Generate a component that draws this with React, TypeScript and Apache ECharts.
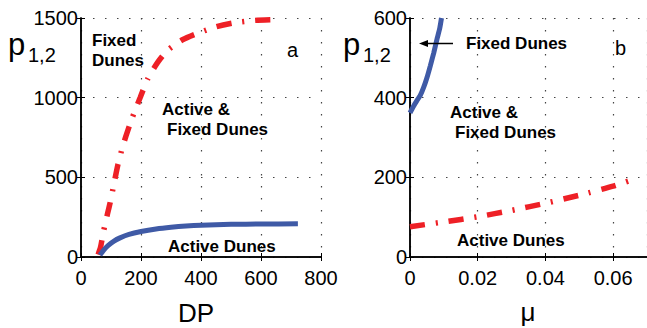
import React, { useEffect, useRef } from "react";
import * as echarts from "echarts";

// Panel a: p vs DP
const dpTicks = [0, 200, 400, 600, 800];
const pTicksA = [0, 500, 1000, 1500];
const redA: [number, number][] = [
  [57, 15], [65, 60], [75, 160], [87, 260], [97, 340], [110, 460], [123, 580],
  [137, 680], [150, 760], [170, 870], [197, 1000], [223, 1120], [255, 1220],
  [290, 1300], [340, 1365], [390, 1405], [450, 1445], [510, 1470], [580, 1485], [660, 1490],
];
const blueA: [number, number][] = [
  [63, 12], [75, 42], [90, 72], [110, 100], [130, 120], [160, 142], [200, 160],
  [250, 176], [300, 187], [350, 195], [400, 200], [500, 205], [600, 207], [723, 208],
];

// Panel b: p vs mu
const muTicks = [0, 0.02, 0.04, 0.06];
const pTicksB = [0, 200, 400, 600];
const redB: [number, number][] = [
  [0, 76], [0.01, 88], [0.02, 101], [0.03, 117], [0.04, 135], [0.05, 155], [0.06, 178], [0.067, 198],
];
const blueB: [number, number][] = [
  [0, 362], [0.001, 378], [0.002, 392], [0.003, 405], [0.004, 425], [0.005, 450],
  [0.006, 480], [0.007, 512], [0.008, 548], [0.0088, 575], [0.0093, 600],
];

const FONT = "'Liberation Sans', Arial, Helvetica, sans-serif";
const RED = "#ee2026";
const BLUE = "#3f5aa6";

export default function App() {
  const ref = useRef<HTMLDivElement>(null);
  useEffect(() => {
    document.body.style.margin = "0";
    const chart = echarts.init(ref.current!, undefined, { renderer: "svg" });
    const splitLine = { show: true, lineStyle: { color: "#444", width: 1.2, type: [1.5, 10.5] as any, opacity: 1 } };
    const axisLine = { show: true, lineStyle: { color: "#000", width: 1.5 } };
    const tick = { show: true, inside: true, length: 4, lineStyle: { color: "#000", width: 1 } };
    const label = (margin: number, showMax = true) => ({
      show: true, color: "#000", fontSize: 20, fontFamily: FONT, margin, showMaxLabel: showMax,
      formatter: (v: number) => String(v),
    });
    const txt = (text: string, x: number, y: number, size: number, bold = true, align = "left") => ({
      type: "text", x, y, silent: true, z: 100,
      style: {
        text, fill: "#000", font: `${bold ? "bold " : ""}${size}px ${FONT}`,
        textAlign: align, textVerticalAlign: "middle",
      },
    });
    const redStyle = { color: RED, width: 5.5, type: [15, 11, 2, 11] as any, cap: "butt" as any };
    const blueStyle = { color: BLUE, width: 5 };
    chart.setOption({
      animation: false,
      grid: [
        { left: 81, top: 18, width: 240, height: 239, show: false },
        { left: 410, top: 18, width: 239, height: 239, show: false },
      ],
      xAxis: [
        { type: "value", gridIndex: 0, min: dpTicks[0], max: dpTicks[dpTicks.length - 1], interval: 200,
          axisLine, axisTick: tick, axisLabel: label(11), splitLine },
        { type: "value", gridIndex: 0, position: "top", min: 0, max: 800, interval: 200,
          axisLine, axisTick: tick, axisLabel: { show: false }, splitLine: { show: false } },
        { type: "value", gridIndex: 1, min: muTicks[0], max: 0.07, interval: 0.02,
          axisLine, axisTick: tick, axisLabel: label(11, false), splitLine },
        { type: "value", gridIndex: 1, position: "top", min: 0, max: 0.07, interval: 0.02,
          axisLine, axisTick: tick, axisLabel: { show: false }, splitLine: { show: false } },
      ],
      yAxis: [
        { type: "value", gridIndex: 0, min: pTicksA[0], max: pTicksA[pTicksA.length - 1], interval: 500,
          axisLine, axisTick: tick, axisLabel: label(3), splitLine },
        { type: "value", gridIndex: 0, position: "right", min: 0, max: 1500, interval: 500,
          axisLine, axisTick: tick, axisLabel: { show: false }, splitLine: { show: false } },
        { type: "value", gridIndex: 1, min: pTicksB[0], max: pTicksB[pTicksB.length - 1], interval: 200,
          axisLine, axisTick: tick, axisLabel: label(3), splitLine },
        { type: "value", gridIndex: 1, position: "right", min: 0, max: 600, interval: 200,
          axisLine, axisTick: tick, axisLabel: { show: false }, splitLine: { show: false } },
      ],
      series: [
        { type: "line", xAxisIndex: 0, yAxisIndex: 0, data: redA, showSymbol: false, smooth: 0.2, lineStyle: redStyle },
        { type: "line", xAxisIndex: 0, yAxisIndex: 0, data: blueA, showSymbol: false, smooth: 0.2, lineStyle: blueStyle },
        { type: "line", xAxisIndex: 2, yAxisIndex: 2, data: redB, showSymbol: false, smooth: 0.2, lineStyle: redStyle },
        { type: "line", xAxisIndex: 2, yAxisIndex: 2, data: blueB, showSymbol: false, smooth: 0.2, lineStyle: blueStyle },
      ],
      graphic: [
        txt("p", 8, 44, 31, false),
        txt("1,2", 28, 55, 20, false),
        txt("p", 343, 44, 31, false),
        txt("1,2", 363, 55, 20, false),
        txt("DP", 196, 313, 26, false, "center"),
        txt("μ", 528, 312, 26, false, "center"),
        txt("Fixed", 92, 40, 17),
        txt("Dunes", 92, 60, 17),
        txt("Active &", 162, 109, 17),
        txt("Fixed Dunes", 167, 129, 17),
        txt("Active Dunes", 168, 246, 17),
        txt("a", 287, 50, 20, false),
        txt("Fixed Dunes", 466, 43.5, 17),
        txt("Active &", 450, 112, 17),
        txt("Fixed Dunes", 455, 132, 17),
        txt("Active Dunes", 457, 240.5, 17),
        txt("b", 615, 48, 20, false),
        { type: "line", silent: true, z: 100, shape: { x1: 426, y1: 43.5, x2: 453, y2: 43.5 }, style: { stroke: "#000", lineWidth: 1.5 } },
        { type: "polygon", silent: true, z: 100, shape: { points: [[419, 43.5], [428, 40], [428, 47]] }, style: { fill: "#000" } },
      ],
    });
    return () => chart.dispose();
  }, []);
  return <div ref={ref} style={{ width: 647, height: 328 }} />;
}
